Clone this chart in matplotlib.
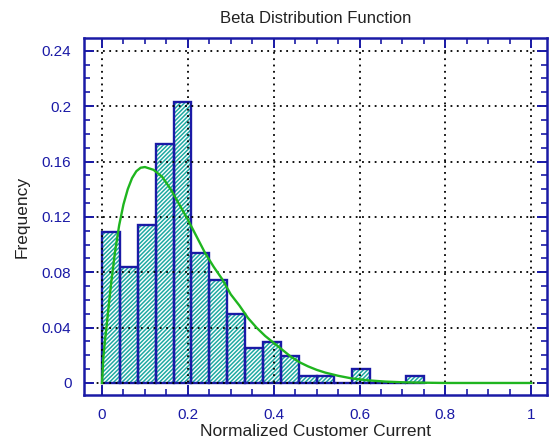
import matplotlib
matplotlib.use("Agg")
import matplotlib.pyplot as plt
from matplotlib.ticker import MultipleLocator, FuncFormatter

plt.rcParams["font.family"] = ["Liberation Sans", "DejaVu Sans"]
plt.rcParams["hatch.linewidth"] = 1.1

# histogram: bin edges start, bin width, frequencies
bin_width = 1 / 24
bin_starts = [i / 24 for i in range(18)]
freqs = [0.109, 0.084, 0.114, 0.173, 0.203, 0.094, 0.0745, 0.0495, 0.025,
         0.0297, 0.0198, 0.005, 0.005, 0.0, 0.0099, 0.0, 0.0, 0.005]

# fitted beta curve
curve_x = [0, 0.003, 0.007, 0.011, 0.016, 0.022, 0.03, 0.04, 0.05, 0.06,
           0.07, 0.08, 0.09, 0.10, 0.12, 0.14, 0.16, 0.18, 0.20, 0.22, 0.24,
           0.26, 0.28, 0.30, 0.32, 0.34, 0.36, 0.38, 0.40, 0.42, 0.44, 0.46,
           0.48, 0.50, 0.52, 0.55, 0.58, 0.62, 0.66, 0.70, 0.75, 0.80, 1.0]
curve_y = [0, 0.018, 0.031, 0.042, 0.057, 0.074, 0.094, 0.114, 0.129, 0.140,
           0.148, 0.153, 0.1555, 0.156, 0.154, 0.149, 0.140, 0.129, 0.118,
           0.106, 0.094, 0.084, 0.075, 0.064, 0.056, 0.047, 0.040, 0.034,
           0.029, 0.024, 0.019, 0.015, 0.012, 0.0095, 0.0075, 0.0052, 0.0034,
           0.0019, 0.001, 0.0005, 0.0002, 0, 0]

navy = "#1a1aa6"
teal = "#1fa9a2"
green = "#1fb51f"

fig = plt.figure(figsize=(5.5, 4.42), dpi=100)
ax = fig.add_axes([0.1527, 0.1063, 0.842, 0.807])

ax.bar(bin_starts, freqs, width=bin_width, align="edge", color="white",
       edgecolor=teal, hatch="////////", linewidth=0, zorder=1)
ax.bar(bin_starts, freqs, width=bin_width, align="edge", fill=False,
       edgecolor=navy, linewidth=1.7, zorder=2)

ax.grid(True, which="major", color="black", linestyle=(0, (1, 2.5)),
        linewidth=1.3, zorder=3)
ax.set_axisbelow(False)
for gl in ax.get_xgridlines() + ax.get_ygridlines():
    gl.set_zorder(3)

ax.plot(curve_x, curve_y, color=green, linewidth=1.7, zorder=4)

ax.set_xlim(-0.042, 1.037)
ax.set_ylim(-0.0087, 0.249)
ax.xaxis.set_major_locator(MultipleLocator(0.2))
ax.xaxis.set_minor_locator(MultipleLocator(0.05))
ax.yaxis.set_major_locator(MultipleLocator(0.04))
ax.yaxis.set_minor_locator(MultipleLocator(0.01))
fmt = FuncFormatter(lambda v, p: f"{v:g}")
ax.xaxis.set_major_formatter(fmt)
ax.yaxis.set_major_formatter(fmt)

ax.tick_params(which="both", direction="in", top=True, right=True,
               color=navy, labelcolor=navy, labelsize=11)
ax.tick_params(which="major", length=7, width=1.4, pad=9)
ax.tick_params(which="minor", length=4, width=1.2)
for s in ax.spines.values():
    s.set_color(navy)
    s.set_linewidth(1.8)

ax.set_title("Beta Distribution Function", fontsize=12, color="#222222",
             pad=11)
ax.set_xlabel("Normalized Customer Current", fontsize=12.5, color="#222222",
              labelpad=2)
ax.set_ylabel("Frequency", fontsize=12.5, color="#222222", labelpad=9)

fig.savefig("out.png", dpi=100)
